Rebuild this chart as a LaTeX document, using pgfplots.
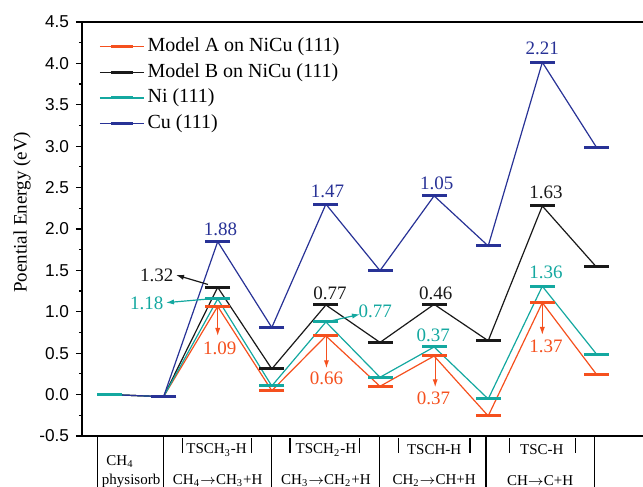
\documentclass[border=0pt]{standalone}
\usepackage{fontspec}
\setmainfont{Liberation Serif}
\setsansfont{Liberation Sans}
\usepackage{pgfplots}
\pgfplotsset{compat=1.18}
\usetikzlibrary{arrows.meta}
\definecolor{cA}{RGB}{245,80,30}
\definecolor{cB}{RGB}{25,25,25}
\definecolor{cNi}{RGB}{20,168,160}
\definecolor{cCu}{RGB}{40,50,150}
\newcommand{\anno}{\fontsize{9.5}{11}\selectfont}
\newcommand{\tab}{\fontsize{7.5}{9}\selectfont}

\pgfplotstableread{
x y
0 0.0
1 -0.025
2 1.065
3 0.047
4 0.708
5 0.100
6 0.466
7 -0.258
8 1.110
9 0.245
}\modelA
\pgfplotstableread{
x y
0 0.0
1 -0.025
2 1.296
3 0.310
4 1.082
5 0.630
6 1.090
7 0.650
8 2.278
9 1.541
}\modelB
\pgfplotstableread{
x y
0 0.0
1 -0.025
2 1.155
3 0.104
4 0.877
5 0.209
6 0.575
7 -0.053
8 1.308
9 0.490
}\ni
\pgfplotstableread{
x y
0 0.0
1 -0.025
2 1.847
3 0.810
4 2.300
5 1.497
6 2.400
7 1.795
8 4.013
9 2.987
}\cu

\begin{document}
\begin{tikzpicture}
\begin{axis}[
  scale only axis, width=280.5pt, height=207pt,
  xmin=-0.508, xmax=9.861, ymin=-0.5, ymax=4.5,
  axis y line*=left,
  xtick=\empty,
  ytick={-0.5,0,0.5,1,1.5,2,2.5,3,3.5,4,4.5},
  minor y tick num=1,
  tick align=outside,
  major tick length=3pt, minor tick length=1.6pt,
  axis line style={line width=0.7pt, black},
  every tick/.style={line width=0.6pt, black},
  yticklabel style={font=\sffamily\fontsize{8.6}{10}\selectfont,
     /pgf/number format/.cd, fixed, fixed zerofill, precision=1, assume math mode=true},
  ylabel={Poential Energy (eV)},
  ylabel style={font=\fontsize{9.5}{11}\selectfont, at={(rel axis cs:-0.107,0.54)}, anchor=center},
  clip=false,
  legend cell align=left,
  legend style={at={(rel axis cs:0.0303,0.972)}, anchor=north west, draw=none, fill=none,
     font=\fontsize{10}{12}\selectfont, row sep=0pt, inner sep=0pt,
     nodes={inner sep=1.5pt, text height=7.3pt, text depth=2.5pt}},
  legend image code/.code={
     \draw[#1, line width=0.6pt] (0pt,0pt) -- (22pt,0pt);
     \draw[#1, line width=1.5pt] (5.5pt,0pt) -- (16.5pt,0pt);},
  every axis plot/.append style={line width=0.6pt, mark=-, mark size=6.25pt,
     mark options={line width=1.5pt, solid}},
]
\addplot[color=cA] table[x=x,y=y]{\modelA};
\addlegendentry{Model A on NiCu (111)}
\addplot[color=cB] table[x=x,y=y]{\modelB};
\addlegendentry{Model B on NiCu (111)}
\addplot[color=cNi] table[x=x,y=y]{\ni};
\addlegendentry{Ni (111)}
\addplot[color=cCu] table[x=x,y=y]{\cu};
\addlegendentry{Cu (111)}
\addplot[color=cNi, only marks, forget plot] coordinates {(0,0)};

% annotations: Cu
\node[font=\anno, text=cCu, inner sep=0pt] at (axis cs:2.05,1.99) {1.88};
\node[font=\anno, text=cCu, inner sep=0pt] at (axis cs:4.03,2.46) {1.47};
\node[font=\anno, text=cCu, inner sep=0pt] at (axis cs:6.05,2.55) {1.05};
\node[font=\anno, text=cCu, inner sep=0pt] at (axis cs:8.0,4.18) {2.21};
% Model B
\node[font=\anno, text=cB, inner sep=0pt] at (axis cs:0.873,1.444) {1.32};
\draw[cB, line width=0.6pt, -{Latex[length=4pt,width=2.6pt]}] (axis cs:1.82,1.33) -- (axis cs:1.23,1.444);
\node[font=\anno, text=cB, inner sep=0pt] at (axis cs:4.076,1.223) {0.77};
\node[font=\anno, text=cB, inner sep=0pt] at (axis cs:6.03,1.223) {0.46};
\node[font=\anno, text=cB, inner sep=0pt] at (axis cs:8.07,2.438) {1.63};
% Ni
\node[font=\anno, text=cNi, inner sep=0pt] at (axis cs:0.688,1.103) {1.18};
\draw[cNi, line width=0.6pt, -{Latex[length=4pt,width=2.6pt]}] (axis cs:1.98,1.163) -- (axis cs:1.044,1.11);
\node[font=\anno, text=cNi, inner sep=0pt] at (axis cs:4.91,1.0) {0.77};
\draw[cNi, line width=0.6pt, -{Latex[length=4pt,width=2.6pt]}] (axis cs:4.01,0.877) -- (axis cs:4.63,0.97);
\node[font=\anno, text=cNi, inner sep=0pt] at (axis cs:5.985,0.72) {0.37};
\node[font=\anno, text=cNi, inner sep=0pt] at (axis cs:8.07,1.477) {1.36};
% Model A
\draw[cA, line width=0.6pt, -{Latex[length=4pt,width=2.6pt]}] (axis cs:2.0,1.062) -- (axis cs:2.0,0.708);
\node[font=\anno, text=cA, inner sep=0pt] at (axis cs:2.04,0.56) {1.09};
\draw[cA, line width=0.6pt, -{Latex[length=4pt,width=2.6pt]}] (axis cs:4.01,0.70) -- (axis cs:4.01,0.318);
\node[font=\anno, text=cA, inner sep=0pt] at (axis cs:4.01,0.197) {0.66};
\draw[cA, line width=0.6pt, -{Latex[length=4pt,width=2.6pt]}] (axis cs:6.02,0.458) -- (axis cs:6.02,0.088);
\node[font=\anno, text=cA, inner sep=0pt] at (axis cs:5.99,-0.045) {0.37};
\draw[cA, line width=0.6pt, -{Latex[length=4pt,width=2.6pt]}] (axis cs:8.0,1.10) -- (axis cs:8.0,0.72);
\node[font=\anno, text=cA, inner sep=0pt] at (axis cs:8.07,0.578) {1.37};

% table below the axis
\draw[line width=0.6pt] (axis cs:-0.22,-0.5) -- (axis cs:-0.22,-1.3);
\draw[line width=0.6pt] (axis cs:1,-0.5) -- (axis cs:1,-1.3);
\draw[line width=0.6pt] (axis cs:3,-0.5) -- (axis cs:3,-1.3);
\draw[line width=0.6pt] (axis cs:4.99,-0.5) -- (axis cs:4.99,-1.3);
\draw[line width=0.6pt] (axis cs:6.96,-0.5) -- (axis cs:6.96,-1.3);
\draw[line width=0.6pt] (axis cs:8.96,-0.5) -- (axis cs:8.96,-1.3);
\draw[line width=0.6pt] (axis cs:1.353,-0.524) -- (axis cs:1.353,-0.705);
\draw[line width=0.6pt] (axis cs:2.63,-0.524) -- (axis cs:2.63,-0.705);
\draw[line width=0.6pt] (axis cs:3.336,-0.524) -- (axis cs:3.336,-0.705);
\draw[line width=0.6pt] (axis cs:4.617,-0.524) -- (axis cs:4.617,-0.705);
\draw[line width=0.6pt] (axis cs:5.338,-0.524) -- (axis cs:5.338,-0.705);
\draw[line width=0.6pt] (axis cs:6.664,-0.524) -- (axis cs:6.664,-0.705);
\draw[line width=0.6pt] (axis cs:7.40,-0.524) -- (axis cs:7.40,-0.705);
\draw[line width=0.6pt] (axis cs:8.617,-0.524) -- (axis cs:8.617,-0.705);
\node[font=\tab, inner sep=0pt] at (axis cs:0.194,-0.81) {CH\textsubscript{4}};
\node[font=\tab, inner sep=0pt] at (axis cs:0.40,-1.04) {physisorb};
\node[font=\tab, inner sep=0pt] at (axis cs:1.98,-0.67) {TSCH\textsubscript{3}-H};
\node[font=\tab, inner sep=0pt] at (axis cs:4.0,-0.67) {TSCH\textsubscript{2}-H};
\node[font=\tab, inner sep=0pt] at (axis cs:6.0,-0.67) {TSCH-H};
\node[font=\tab, inner sep=0pt] at (axis cs:7.99,-0.67) {TSC-H};
\node[font=\tab, inner sep=0pt] at (axis cs:2.0,-1.04) {CH\textsubscript{4}$\rightarrow$CH\textsubscript{3}+H};
\node[font=\tab, inner sep=0pt] at (axis cs:4.0,-1.04) {CH\textsubscript{3}$\rightarrow$CH\textsubscript{2}+H};
\node[font=\tab, inner sep=0pt] at (axis cs:6.0,-1.04) {CH\textsubscript{2}$\rightarrow$CH+H};
\node[font=\tab, inner sep=0pt] at (axis cs:7.96,-1.04) {CH$\rightarrow$C+H};

\coordinate (BL) at (rel axis cs:0,0);
\coordinate (TR) at (rel axis cs:1,1);
\end{axis}
\pgfresetboundingbox
\path[use as bounding box] ([xshift=-41pt,yshift=-25.5pt]BL) rectangle ([yshift=11pt]TR);
\end{tikzpicture}
\end{document}
